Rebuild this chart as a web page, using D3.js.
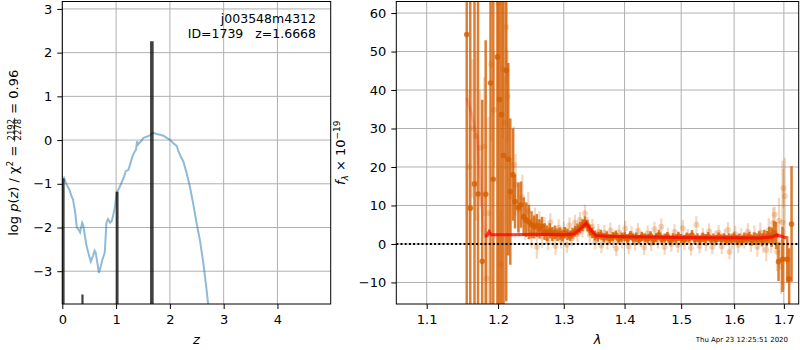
<!DOCTYPE html>
<html>
<head>
<meta charset="utf-8">
<script src="https://cdn.jsdelivr.net/npm/d3@7"></script>
<style>
  body { margin: 0; background: #fff; }
  svg { display: block; font-family: "DejaVu Sans", sans-serif; }
</style>
</head>
<body>
<div id="chart"></div>
<script>
// ---- left panel: redshift probability ----
const zGrid = [0.0, 0.03, 0.08, 0.13, 0.17, 0.2, 0.24, 0.27, 0.30, 0.33, 0.34, 0.37, 0.39, 0.42, 0.45, 0.50,
  0.53, 0.57, 0.60, 0.62, 0.66, 0.68, 0.72, 0.74, 0.79, 0.82, 0.85, 0.89, 0.92, 0.95, 0.98, 1.01,
  1.06, 1.10, 1.15, 1.18, 1.23, 1.26, 1.30, 1.33, 1.37, 1.39, 1.41, 1.46, 1.51, 1.57, 1.62, 1.69,
  1.75, 1.82, 1.88, 1.94, 2.0, 2.06, 2.13, 2.16, 2.20, 2.25, 2.31, 2.37, 2.44, 2.50, 2.56, 2.62, 2.68, 2.72]
const logPz = [-0.9, -0.86, -1.02, -1.13, -1.28, -1.36, -1.66, -2.0, -2.04, -2.11, -2.05, -1.89, -1.95, -2.19, -2.42, -2.65,
  -2.78, -2.65, -2.53, -2.57, -2.87, -3.04, -2.87, -2.76, -2.57, -1.89, -1.81, -1.89, -1.85, -1.70, -1.51, -1.20,
  -1.09, -0.98, -0.83, -0.71, -0.68, -0.56, -0.39, -0.30, -0.22, -0.03, -0.10, -0.03, 0.05, 0.08, 0.10, 0.17,
  0.14, 0.12, 0.10, 0.05, 0.01, -0.07, -0.14, -0.26, -0.37, -0.49, -0.75, -1.05, -1.5, -1.92, -2.3, -2.8, -3.4, -3.85]

// peaks of the fit (bars)
const zPeaks = [0.02, 0.375, 1.02, 1.665]
const peakTops = [-0.88, -3.53, -1.18, 2.26]

const zTicks = [0, 1, 2, 3, 4]
const pzTicks = [-3, -2, -1, 0, 1, 2, 3]

// ---- right panel: spectrum ----
// binned spectrum
const binWave = [1.155, 1.160, 1.166, 1.171, 1.177, 1.182, 1.189, 1.193, 1.199, 1.202, 1.205, 1.208, 1.212, 1.215, 1.218, 1.222,
  1.225, 1.230, 1.234, 1.238, 1.242, 1.246, 1.250, 1.254, 1.258, 1.262, 1.266, 1.270, 1.274, 1.278, 1.282, 1.286,
  1.290, 1.294, 1.298, 1.302, 1.306, 1.310, 1.314, 1.318, 1.322, 1.326, 1.330, 1.334, 1.338, 1.342, 1.346, 1.350,
  1.355, 1.360, 1.365, 1.370, 1.375, 1.380, 1.385, 1.390, 1.395, 1.400, 1.405, 1.410, 1.415, 1.420, 1.425, 1.430,
  1.435, 1.440, 1.445, 1.450, 1.455, 1.460, 1.465, 1.470, 1.475, 1.480, 1.485, 1.490, 1.495, 1.500, 1.505, 1.510,
  1.515, 1.520, 1.525, 1.530, 1.535, 1.540, 1.545, 1.550, 1.555, 1.560, 1.565, 1.570, 1.575, 1.580, 1.585, 1.590,
  1.595, 1.600, 1.605, 1.610, 1.615, 1.620, 1.625, 1.630, 1.635, 1.640, 1.645, 1.650, 1.655, 1.660, 1.665, 1.670,
  1.675, 1.680, 1.684, 1.689, 1.697, 1.707, 1.711, 1.716]
const binFlux = [54.4, 9.3, 15.6, 13.0, -4.5, 12.9, 41.8, 16.8, 48.6, 37.5, 33.6, 23.0, 45.1, 22.0, 13.6, 18.0,
  11.0, 9.5, 10.2, 7.1, 6.3, 5.7, 5.0, 4.4, 4.8, 3.9, 4.6, 3.2, 2.8, 3.4, 2.6, 3.0,
  2.4, 2.7, 2.2, 2.9, 2.5, 2.1, 2.8, 3.3, 3.8, 4.2, 4.9, 5.6, 4.8, 3.6, 2.9, 2.2,
  1.9, 2.4, 1.6, 2.1, 1.4, 1.9, 2.3, 1.2, 1.8, 2.0, 1.3, 2.2, 1.5, 1.8, 1.1, 2.0,
  1.6, 1.3, 2.1, 1.0, 1.7, 2.4, 1.2, 1.5, 1.9, 0.9, 1.6, 1.3, 2.0, 1.4, 1.1, 1.8,
  1.5, 2.3, 1.2, 1.6, 1.0, 1.7, 1.4, 1.9, 1.2, 1.5, 1.1, 1.8, 1.3, 1.6, 1.0, 1.5,
  1.2, 1.7, 1.1, 1.4, 0.9, 1.6, 1.3, 1.8, 1.0, 1.5, 1.2, 1.7, 1.1, 1.9, 1.4, 2.3,
  1.8, 2.9, 2.2, -4.6, -4.0, -4.0, -9.1, 5.2]
const binErr = [90, 60, 80, 80, 42, 40, 70, 60, 70, 60, 55, 50, 60, 25, 19, 12,
  7, 6.5, 6, 5, 4.5, 4.5, 3.5, 3, 3, 2.5, 2.5, 2.2, 2, 2, 1.8, 1.8,
  1.6, 1.6, 1.5, 1.5, 1.5, 1.4, 1.4, 1.4, 1.5, 1.5, 1.5, 1.6, 1.5, 1.4, 1.4, 1.3,
  1.3, 1.3, 1.2, 1.2, 1.2, 1.2, 1.2, 1.2, 1.2, 1.2, 1.2, 1.2, 1.2, 1.2, 1.2, 1.2,
  1.2, 1.2, 1.2, 1.2, 1.2, 1.3, 1.2, 1.2, 1.2, 1.2, 1.2, 1.2, 1.2, 1.2, 1.2, 1.2,
  1.2, 1.3, 1.2, 1.2, 1.2, 1.2, 1.2, 1.2, 1.2, 1.2, 1.2, 1.2, 1.2, 1.2, 1.3, 1.3,
  1.3, 1.3, 1.3, 1.3, 1.3, 1.3, 1.4, 1.4, 1.4, 1.5, 1.5, 1.6, 1.7, 1.8, 2, 2.2,
  2.5, 3, 3.5, 5, 8.5, 6, 8, 15]

// unbinned spectrum
const rawWave = [1.158, 1.163, 1.168, 1.174, 1.180, 1.183, 1.186, 1.190, 1.194, 1.200, 1.204, 1.207, 1.210, 1.212,
  1.214, 1.219, 1.223, 1.226, 1.231, 1.236, 1.240, 1.245, 1.250, 1.255, 1.258, 1.262, 1.266,
  1.270, 1.275, 1.279, 1.283, 1.287, 1.292, 1.296, 1.300, 1.305, 1.309, 1.313, 1.318, 1.322, 1.326,
  1.330, 1.334, 1.338, 1.342, 1.346, 1.351, 1.356, 1.361, 1.366, 1.371, 1.376, 1.381, 1.386, 1.391,
  1.396, 1.401, 1.407, 1.412, 1.418, 1.423, 1.428, 1.434, 1.440, 1.446, 1.452, 1.458, 1.464, 1.470,
  1.476, 1.482, 1.488, 1.494, 1.503, 1.506, 1.512, 1.518, 1.528, 1.534, 1.540, 1.546, 1.552, 1.558,
  1.564, 1.570, 1.576, 1.582, 1.588, 1.591, 1.596, 1.602, 1.608, 1.614, 1.620, 1.627, 1.633, 1.640,
  1.646, 1.652, 1.658, 1.664, 1.669, 1.674, 1.678, 1.681, 1.686, 1.690, 1.694, 1.697, 1.699, 1.700, 1.702]
const rawFlux = [20, 30, 28, 25, 25.3, -9.0, 8.0, 46.6, 34.9, 62.5, -5.3, 45.3, 31.4, 56.4,
  38.4, 12.3, 20.5, 15.4, 9.0, 12.0, 6.0, 8.5, 3.0, 6.0, -0.8, 5.5, 2.0,
  4.5, 0.8, 5.6, 2.0, -0.5, 4.2, 1.0, 3.6, -0.2, 4.8, 1.5, 5.5, 2.6, 6.2,
  3.8, 8.0, 5.0, 2.4, 4.5, 0.6, 3.2, -0.4, 2.9, 0.5, 3.5, 1.0, -1.2, 3.0,
  0.8, 4.0, -0.6, 2.6, 0.3, 3.4, 1.2, -0.9, 2.8, 0.2, 3.8, 0.9, 4.5, -0.8,
  2.2, 0.0, 3.1, -0.3, 4.1, 0.4, 1.9, -1.0, 5.0, -0.5, 2.2, 0.1, 3.3, -0.7,
  1.5, 2.9, -0.6, 1.8, 3.6, -2.0, 0.7, 2.6, -0.2, 1.9, 1.0, 3.2, 0.2, 2.4,
  -0.8, 3.0, 0.5, -1.5, 3.5, 1.2, 5.5, 7.6, -2.0, 6.0, -6.0, 5.6, 14.5, -4.0, 12.4]
const rawErr = [20, 18, 22, 15, 18, 12, 25, 20, 15, 25, 14, 18, 12, 15,
  12, 10, 10, 8, 7, 6, 5, 5, 4, 3.5, 3, 3, 3,
  2.5, 2.4, 2.4, 2.3, 2.3, 2.2, 2.2, 2.2, 2.1, 2.1, 2.1, 2.1, 2.1, 2.1,
  2.1, 2.2, 2.1, 2.0, 2.0, 2.0, 2.0, 2.0, 2.0, 2.0, 2.0, 2.0, 2.0, 2.0,
  2.0, 2.0, 2.0, 2.0, 2.0, 2.0, 2.0, 2.0, 2.0, 2.0, 2.0, 2.0, 2.1, 2.0,
  2.0, 2.0, 2.0, 2.0, 2.1, 2.0, 2.0, 2.0, 2.2, 2.0, 2.0, 2.0, 2.0, 2.0,
  2.0, 2.0, 2.0, 2.0, 2.1, 2.0, 2.1, 2.1, 2.1, 2.2, 2.2, 2.2, 2.3, 2.4,
  2.5, 2.6, 2.8, 3.0, 3.2, 3.5, 4.0, 2.1, 5, 6, 7, 16, 5, 8, 10]

// best-fit model
const modelWave = [1.155, 1.160, 1.165, 1.170, 1.173, 1.176, 1.179, 1.181, 1.184, 1.187, 1.190, 1.22, 1.26, 1.30,
  1.316, 1.326, 1.336, 1.344, 1.352, 1.37, 1.40, 1.45, 1.50, 1.55, 1.60, 1.65, 1.675, 1.685, 1.695, 1.705]
const modelFlux = [38, 35, 31.5, 27, 20, 11, 4, 2.0, 2.2, 3.2, 2.4, 2.4, 2.5, 2.4,
  2.6, 3.8, 5.4, 3.5, 2.2, 2.0, 1.9, 1.8, 1.7, 1.6, 1.6, 1.55, 1.8, 2.3, 2.0, 1.6]

const waveTicks = [1.1, 1.2, 1.3, 1.4, 1.5, 1.6, 1.7]
const fluxTicks = [-10, 0, 10, 20, 30, 40, 50, 60]

const width = 800
const height = 350
const gridColor = '#b0b0b0'
const specColor = '#d55e00'

const svg = d3.select('#chart').append('svg')
  .attr('width', width)
  .attr('height', height)

const defs = svg.append('defs')

// ---------- LEFT ----------
const L = { left: 62.3, right: 330.7, top: 1.5, bottom: 304 }

const xZ = d3.scaleLinear().domain([0, 4.99]).range([L.left, L.right])
const yP = d3.scaleLinear().domain([-3.75, 3.17]).range([L.bottom, L.top])

defs.append('clipPath').attr('id', 'clipL')
  .append('rect')
  .attr('x', L.left).attr('y', L.top)
  .attr('width', L.right - L.left).attr('height', L.bottom - L.top)

const left = svg.append('g')

left.selectAll('.vgrid').data(zTicks).join('line')
  .attr('x1', d => xZ(d)).attr('x2', d => xZ(d))
  .attr('y1', L.top).attr('y2', L.bottom)
  .attr('stroke', gridColor).attr('stroke-width', 1)

left.selectAll('.hgrid').data(pzTicks).join('line')
  .attr('x1', L.left).attr('x2', L.right)
  .attr('y1', d => yP(d)).attr('y2', d => yP(d))
  .attr('stroke', gridColor).attr('stroke-width', 1)

const plotL = left.append('g').attr('clip-path', 'url(#clipL)')

const pzLine = d3.line()
  .x((d, i) => xZ(zGrid[i]))
  .y(d => yP(d))

plotL.append('path')
  .datum(logPz)
  .attr('d', pzLine)
  .attr('fill', 'none')
  .attr('stroke', '#1f77b4')
  .attr('stroke-opacity', 0.5)
  .attr('stroke-width', 2)

// the bars get wider for the stronger peaks
const barWidths = [2.5, 2.2, 2.8, 3.6]
plotL.selectAll('.peak').data(zPeaks).join('line')
  .attr('x1', d => xZ(d)).attr('x2', d => xZ(d))
  .attr('y1', L.bottom)
  .attr('y2', (d, i) => yP(peakTops[i]))
  .attr('stroke', 'black')
  .attr('stroke-opacity', 0.75)
  .attr('stroke-width', (d, i) => barWidths[i])

left.append('rect')
  .attr('x', L.left).attr('y', L.top)
  .attr('width', L.right - L.left).attr('height', L.bottom - L.top)
  .attr('fill', 'none').attr('stroke', 'black').attr('stroke-width', 1)

const xAxisL = left.append('g')
  .attr('transform', 'translate(0,' + L.bottom + ')')
  .call(d3.axisBottom(xZ).tickValues(zTicks).tickSize(5).tickPadding(6).tickFormat(d3.format('d')))
const yAxisL = left.append('g')
  .attr('transform', 'translate(' + L.left + ',0)')
  .call(d3.axisLeft(yP).tickValues(pzTicks).tickSize(5).tickPadding(5).tickFormat(d3.format('d')))

// annotation, top right
left.append('text')
  .attr('x', 316).attr('y', 23)
  .attr('text-anchor', 'end')
  .attr('font-size', 12.5)
  .text('j003548m4312')
left.append('text')
  .attr('x', 316).attr('y', 38)
  .attr('text-anchor', 'end')
  .attr('font-size', 12.5)
  .text('ID=1739\u00a0\u00a0\u00a0z=1.6668')

// ---------- RIGHT ----------
const R = { left: 396.3, right: 798.7, top: 1.5, bottom: 304 }

const xW = d3.scaleLog().domain([1.06, 1.731]).range([R.left, R.right])
const yF = d3.scaleLinear().domain([-15.6, 63.0]).range([R.bottom, R.top])

defs.append('clipPath').attr('id', 'clipR')
  .append('rect')
  .attr('x', R.left).attr('y', R.top)
  .attr('width', R.right - R.left).attr('height', R.bottom - R.top)

const right = svg.append('g')

right.selectAll('.vgrid').data(waveTicks).join('line')
  .attr('x1', d => xW(d)).attr('x2', d => xW(d))
  .attr('y1', R.top).attr('y2', R.bottom)
  .attr('stroke', gridColor).attr('stroke-width', 1)

right.selectAll('.hgrid').data(fluxTicks).join('line')
  .attr('x1', R.left).attr('x2', R.right)
  .attr('y1', d => yF(d)).attr('y2', d => yF(d))
  .attr('stroke', gridColor).attr('stroke-width', 1)

const plotR = right.append('g').attr('clip-path', 'url(#clipR)')

function errorbars (g, wave, flux, err, alpha, lw, r) {
  const idx = d3.range(wave.length)
  const layer = g.append('g')
  layer.selectAll('line').data(idx).join('line')
    .attr('x1', i => xW(wave[i])).attr('x2', i => xW(wave[i]))
    .attr('y1', i => yF(flux[i] - err[i]))
    .attr('y2', i => yF(flux[i] + err[i]))
    .attr('stroke', specColor)
    .attr('stroke-opacity', alpha)
    .attr('stroke-width', lw)
  layer.selectAll('circle').data(idx).join('circle')
    .attr('cx', i => xW(wave[i]))
    .attr('cy', i => yF(flux[i]))
    .attr('r', r)
    .attr('fill', specColor)
    .attr('fill-opacity', alpha)
}

errorbars(plotR, rawWave, rawFlux, rawErr, 0.25, 2.2, 3)
errorbars(plotR, binWave, binFlux, binErr, 0.8, 2.5, 2.8)

// faint part beyond the sensitivity edge, then the solid model
plotR.append('path')
  .datum(modelFlux)
  .attr('d', d3.line().x((d, i) => xW(modelWave[i])).y(d => yF(d)))
  .attr('fill', 'none')
  .attr('stroke', 'red')
  .attr('stroke-opacity', 0.18)
  .attr('stroke-width', 3)

const startIdx = modelWave.findIndex(w => w >= 1.181)
plotR.append('path')
  .datum(modelFlux.slice(startIdx))
  .attr('d', d3.line().x((d, i) => xW(modelWave[i + startIdx])).y(d => yF(d)))
  .attr('fill', 'none')
  .attr('stroke', 'red')
  .attr('stroke-opacity', 0.7)
  .attr('stroke-width', 3)

plotR.append('line')
  .attr('x1', R.left).attr('x2', R.right)
  .attr('y1', yF(0)).attr('y2', yF(0))
  .attr('stroke', 'black')
  .attr('stroke-width', 2)
  .attr('stroke-dasharray', '2,2.2')

right.append('rect')
  .attr('x', R.left).attr('y', R.top)
  .attr('width', R.right - R.left).attr('height', R.bottom - R.top)
  .attr('fill', 'none').attr('stroke', 'black').attr('stroke-width', 1)

const xAxisR = right.append('g')
  .attr('transform', 'translate(0,' + R.bottom + ')')
  .call(d3.axisBottom(xW).tickValues(waveTicks).tickSize(5).tickPadding(6).tickFormat(d3.format('.1f')))
const yAxisR = right.append('g')
  .attr('transform', 'translate(' + R.left + ',0)')
  .call(d3.axisLeft(yF).tickValues(fluxTicks).tickSize(5).tickPadding(5).tickFormat(d3.format('d')))

// axis styling, a bit like matplotlib
svg.selectAll('.domain').remove()
svg.selectAll('.tick line').attr('stroke', 'black').attr('stroke-width', 1)
svg.selectAll('.tick text')
  .attr('fill', 'black')
  .attr('font-size', 13)
  .attr('font-family', '"DejaVu Sans", sans-serif')

// ---------- labels ----------
svg.append('text')
  .attr('x', (L.left + L.right) / 2).attr('y', 344)
  .attr('text-anchor', 'middle')
  .attr('font-size', 13)
  .attr('font-style', 'italic')
  .text('z')

svg.append('text')
  .attr('x', (R.left + R.right) / 2).attr('y', 344)
  .attr('text-anchor', 'middle')
  .attr('font-size', 13)
  .attr('font-style', 'italic')
  .text('λ')

// left y label: log p(z) / chi2 = 2192/2278 = 0.96
const yLab = svg.append('g')
  .attr('transform', 'translate(18,' + (L.top + L.bottom) / 2 + ') rotate(-90)')
const inner = yLab.append('g')
const t1 = inner.append('text').attr('font-size', 13)
t1.append('tspan').text('log\u00a0')
t1.append('tspan').attr('font-style', 'italic').text('p')
t1.append('tspan').text('(')
t1.append('tspan').attr('font-style', 'italic').text('z')
t1.append('tspan').text(')\u00a0/\u00a0χ')
t1.append('tspan').attr('font-size', 9).attr('dy', -5).text('2')
t1.append('tspan').attr('dy', 5).text('\u00a0=\u00a0')
const w1 = t1.node().getComputedTextLength()

const num = inner.append('text').attr('font-size', 8.5).attr('text-anchor', 'middle').attr('y', -4.2).text('2192')
const den = inner.append('text').attr('font-size', 8.5).attr('text-anchor', 'middle').attr('y', 3.2).text('2278')
const fw = Math.max(num.node().getComputedTextLength(), den.node().getComputedTextLength()) + 2
num.attr('x', w1 + fw / 2)
den.attr('x', w1 + fw / 2)
inner.append('line')
  .attr('x1', w1).attr('x2', w1 + fw)
  .attr('y1', -3.4).attr('y2', -3.4)
  .attr('stroke', 'black').attr('stroke-width', 0.7)

const t3 = inner.append('text').attr('font-size', 13)
  .attr('x', w1 + fw).text('\u00a0=\u00a00.96')
const total = w1 + fw + t3.node().getComputedTextLength()
inner.attr('transform', 'translate(' + (-total / 2) + ',0)')

// right y label: f_lambda x 10^-19
const fLab = svg.append('text')
  .attr('transform', 'translate(345,' + (R.top + R.bottom) / 2 + ') rotate(-90)')
  .attr('text-anchor', 'middle')
  .attr('font-size', 13)
fLab.append('tspan').attr('font-style', 'italic').text('f')
fLab.append('tspan').attr('font-size', 9).attr('font-style', 'italic').attr('dy', 3).text('λ')
fLab.append('tspan').attr('dy', -3).text('\u00a0×\u00a010')
fLab.append('tspan').attr('font-size', 9).attr('dy', -5).text('−19')

// timestamp
svg.append('text')
  .attr('x', 788).attr('y', 342)
  .attr('text-anchor', 'end')
  .attr('font-size', 7)
  .text('Thu Apr 23 12:25:51 2020')
</script>
</body>
</html>
